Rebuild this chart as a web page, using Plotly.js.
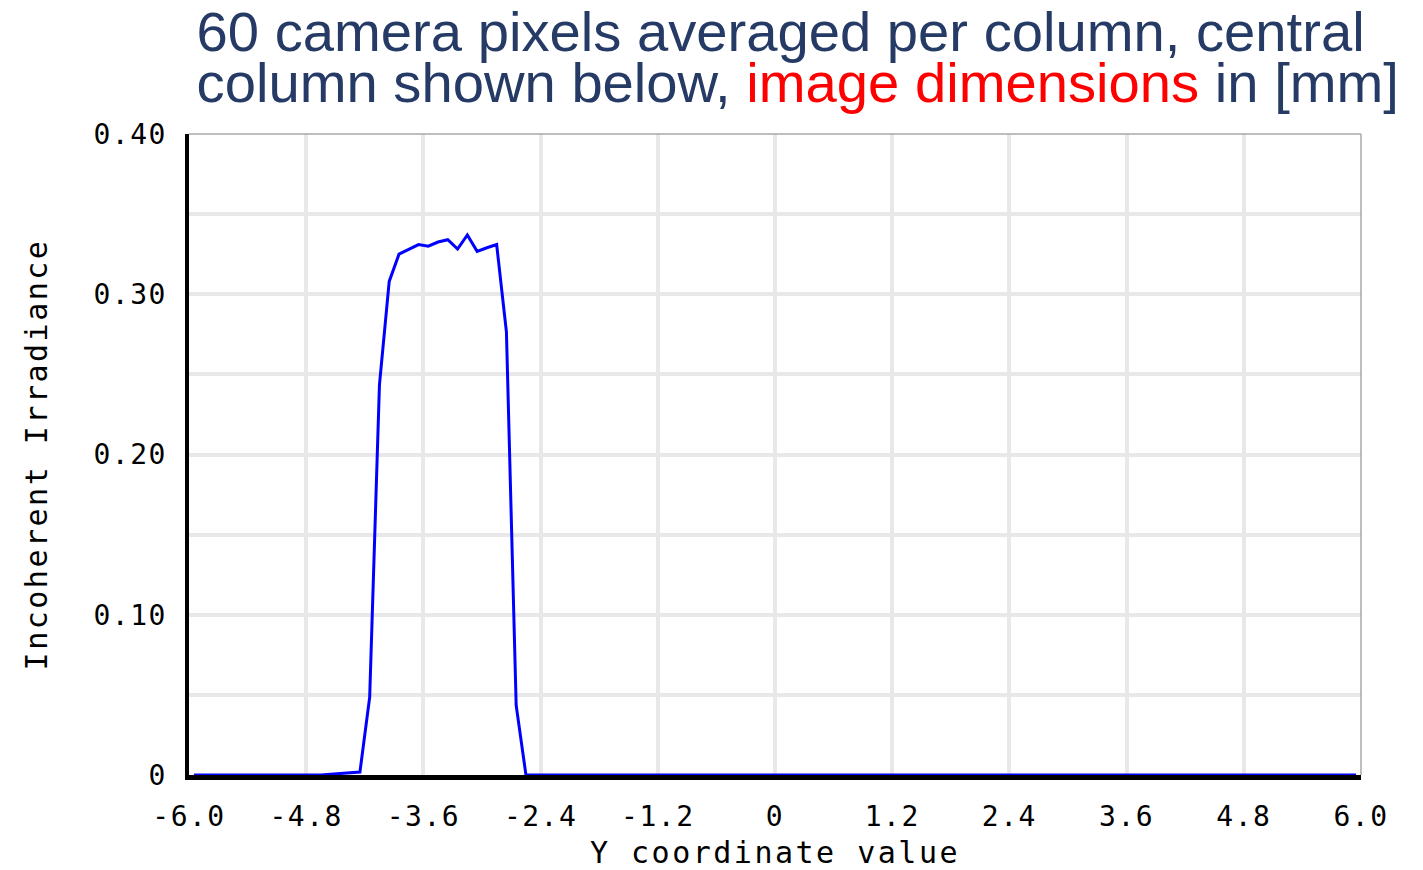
<!DOCTYPE html>
<html>
<head>
<meta charset="utf-8">
<script src="https://cdn.plot.ly/plotly-3.0.1.min.js"></script>
<style>
  html, body { margin: 0; padding: 0; background: #ffffff; }
  #chart { width: 1423px; height: 870px; }
  .xtick text, .ytick text { letter-spacing: 1.5px; }
  .g-xtitle text, .g-ytitle text { letter-spacing: 2.5px; }
</style>
</head>
<body>
<div id="chart"></div>
<script>
// Y coordinate of each column centre [mm]
const yCoord = [
  -5.95, -5.85, -5.75, -5.65, -5.55, -5.45, -5.35, -5.25, -5.15, -5.05,
  -4.95, -4.85, -4.75, -4.65, -4.55, -4.45, -4.35, -4.25, -4.15, -4.05,
  -3.95, -3.85, -3.75, -3.65, -3.55, -3.45, -3.35, -3.25, -3.15, -3.05,
  -2.95, -2.85, -2.75, -2.65, -2.55, -2.45, -2.35, -2.25, -2.15, -2.05,
  -1.95, -1.85, -1.75, -1.65, -1.55, -1.45, -1.35, -1.25, -1.15, -1.05,
  -0.95, -0.85, -0.75, -0.65, -0.55, -0.45, -0.35, -0.25, -0.15, -0.05,
   0.05,  0.15,  0.25,  0.35,  0.45,  0.55,  0.65,  0.75,  0.85,  0.95,
   1.05,  1.15,  1.25,  1.35,  1.45,  1.55,  1.65,  1.75,  1.85,  1.95,
   2.05,  2.15,  2.25,  2.35,  2.45,  2.55,  2.65,  2.75,  2.85,  2.95,
   3.05,  3.15,  3.25,  3.35,  3.45,  3.55,  3.65,  3.75,  3.85,  3.95,
   4.05,  4.15,  4.25,  4.35,  4.45,  4.55,  4.65,  4.75,  4.85,  4.95,
   5.05,  5.15,  5.25,  5.35,  5.45,  5.55,  5.65,  5.75,  5.85,  5.95
];

// Incoherent irradiance of the central column
const irradiance = [
  0, 0, 0, 0, 0, 0, 0, 0, 0, 0,
  0, 0, 0, 0, 0.0005, 0.0008, 0.0012, 0.0018, 0.0486, 0.2434,
  0.3080, 0.3250, 0.3280, 0.3310, 0.3300, 0.3326, 0.3340, 0.3282, 0.3370, 0.3268,
  0.3290, 0.3310, 0.2766, 0.0434, 0, 0, 0, 0, 0, 0,
  0, 0, 0, 0, 0, 0, 0, 0, 0, 0,
  0, 0, 0, 0, 0, 0, 0, 0, 0, 0,
  0, 0, 0, 0, 0, 0, 0, 0, 0, 0,
  0, 0, 0, 0, 0, 0, 0, 0, 0, 0,
  0, 0, 0, 0, 0, 0, 0, 0, 0, 0,
  0, 0, 0, 0, 0, 0, 0, 0, 0, 0,
  0, 0, 0, 0, 0, 0, 0, 0, 0, 0,
  0, 0, 0, 0, 0, 0, 0, 0, 0, 0
];

const xTickVals = [-6, -4.8, -3.6, -2.4, -1.2, 0, 1.2, 2.4, 3.6, 4.8, 6];
const xTickText = ['-6.0', '-4.8', '-3.6', '-2.4', '-1.2', '0', '1.2', '2.4', '3.6', '4.8', '6.0'];
const yTickVals = [0, 0.05, 0.10, 0.15, 0.20, 0.25, 0.30, 0.35, 0.40];
const yTickText = ['0', '', '0.10', '', '0.20', '', '0.30', '', '0.40'];

const chartTitle = '60 camera pixels averaged per column, central<br>' +
  'column shown below, <span style="color:#ff0000">image dimensions</span> in [mm]';

const monoFont = { family: '"DejaVu Sans Mono", monospace', color: '#000000' };
const titleColor = '#263a66';

const trace = {
  x: yCoord,
  y: irradiance,
  type: 'scatter',
  mode: 'lines',
  line: { color: '#0000ff', width: 3 },
  hoverinfo: 'x+y'
};

const layout = {
  width: 1423,
  height: 870,
  margin: { l: 189, r: 62, t: 134, b: 95, pad: 0 },
  paper_bgcolor: '#ffffff',
  plot_bgcolor: '#ffffff',
  showlegend: false,
  title: {
    text: chartTitle,
    xref: 'paper', x: 0.0065, xanchor: 'left',
    yref: 'container', y: 0.9414, yanchor: 'top',
    font: { family: '"Liberation Sans", Arial, sans-serif', size: 56.2, color: titleColor }
  },
  xaxis: {
    range: [-6, 6],
    tickmode: 'array',
    tickvals: xTickVals,
    ticktext: xTickText,
    showgrid: true,
    gridcolor: '#e8e8e8',
    gridwidth: 4,
    zeroline: false,
    showline: true,
    linecolor: '#000000',
    linewidth: 4.5,
    ticks: 'outside',
    ticklen: 5,
    tickwidth: 1.5,
    tickcolor: '#ffffff',
    ticklabelstandoff: 8,
    tickfont: Object.assign({ size: 28 }, monoFont),
    title: { text: 'Y coordinate value', font: Object.assign({ size: 30 }, monoFont), standoff: 16 },
    fixedrange: true
  },
  yaxis: {
    range: [0, 0.4],
    tickmode: 'array',
    tickvals: yTickVals,
    ticktext: yTickText,
    showgrid: true,
    gridcolor: '#e8e8e8',
    gridwidth: 4,
    zeroline: false,
    showline: true,
    linecolor: '#000000',
    linewidth: 4.5,
    ticks: 'outside',
    ticklen: 5,
    tickwidth: 1.5,
    tickcolor: '#ffffff',
    ticklabelstandoff: 7,
    tickfont: Object.assign({ size: 28 }, monoFont),
    title: { text: 'Incoherent Irradiance', font: Object.assign({ size: 30 }, monoFont), standoff: 38 },
    fixedrange: true
  },
  shapes: [
    { type: 'line', xref: 'paper', yref: 'paper', x0: 0, x1: 1, y0: 1, y1: 1,
      line: { color: '#a8a8a8', width: 1.5 } },
    { type: 'line', xref: 'paper', yref: 'paper', x0: 1, x1: 1, y0: 0, y1: 1,
      line: { color: '#a8a8a8', width: 1.5 } }
  ]
};

// Tighten the gap between the two title lines
function tightenTitle(gd) {
  const lines = gd.querySelectorAll('.gtitle tspan.line');
  lines.forEach((t, i) => { if (i > 0) t.setAttribute('dy', '0.91em'); });
}

Plotly.newPlot('chart', [trace], layout, { staticPlot: true, displayModeBar: false })
  .then(tightenTitle);
</script>
</body>
</html>
